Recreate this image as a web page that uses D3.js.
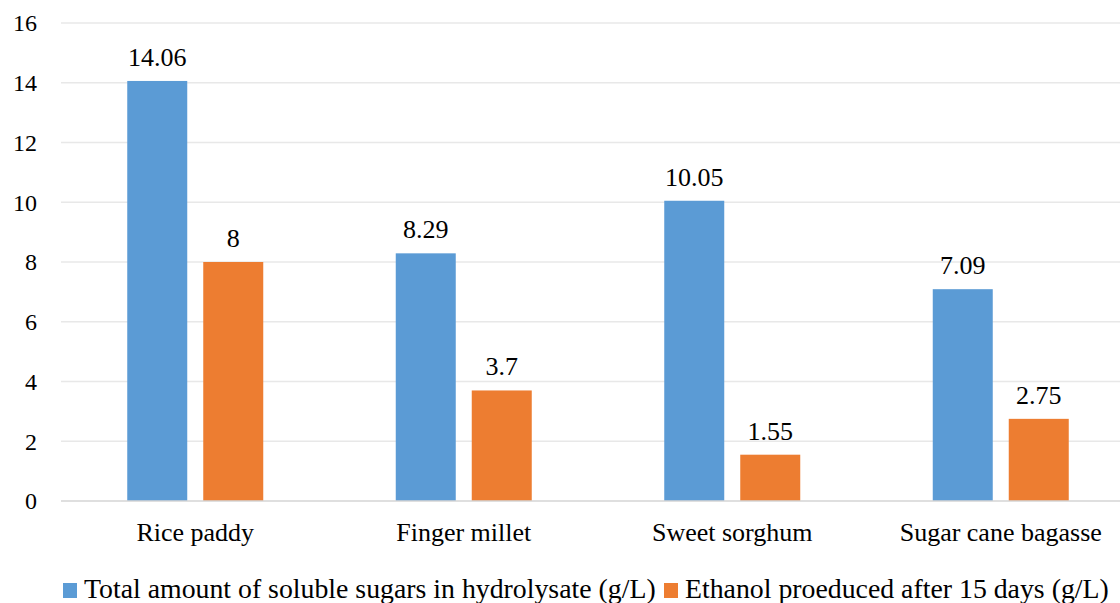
<!DOCTYPE html>
<html>
<head>
<meta charset="utf-8">
<script src="https://cdn.jsdelivr.net/npm/d3@7"></script>
<style>
  body { margin: 0; background: #fff; }
</style>
</head>
<body>
<div id="chart"></div>
<script>
// data
var categories = ["Rice paddy", "Finger millet", "Sweet sorghum", "Sugar cane bagasse"];
var seriesNames = ["Total amount of soluble sugars in hydrolysate (g/L)", "Ethanol proeduced after 15 days (g/L)"];
var sugars = [14.06, 8.29, 10.05, 7.09];
var ethanol = [8, 3.7, 1.55, 2.75];
var sugarLabels = ["14.06", "8.29", "10.05", "7.09"];
var ethanolLabels = ["8", "3.7", "1.55", "2.75"];
var yTicks = [0, 2, 4, 6, 8, 10, 12, 14, 16];
var colors = ["#5B9BD5", "#ED7D31"];

var W = 1120, H = 603;
var m = {left: 61, right: 1135, top: 23, bottom: 501};
var FONT = "'Liberation Serif', 'Times New Roman', serif";

var svg = d3.select("#chart").append("svg")
  .attr("width", W)
  .attr("height", H)
  .attr("font-family", FONT);

var x = d3.scaleBand()
  .domain(categories)
  .range([m.left, m.right]);

var y = d3.scaleLinear()
  .domain([0, 16])
  .range([m.bottom, m.top]);

// gridlines
svg.append("g")
  .selectAll("line")
  .data(yTicks.filter(function(d) { return d > 0; }))
  .enter().append("line")
  .attr("x1", m.left).attr("x2", W)
  .attr("y1", function(d) { return y(d); })
  .attr("y2", function(d) { return y(d); })
  .attr("stroke", "#e8e8e8")
  .attr("stroke-width", 1.3);

// y tick labels
svg.append("g")
  .selectAll("text")
  .data(yTicks)
  .enter().append("text")
  .attr("x", 37)
  .attr("y", function(d) { return y(d); })
  .attr("dy", "0.35em")
  .attr("text-anchor", "end")
  .attr("font-family", FONT)
  .attr("font-size", 24)
  .text(function(d) { return d; });

// bars
var barW = 60, gap = 16;
var rows = categories.map(function(c, i) {
  return [
    {cat: c, s: 0, v: sugars[i], lab: sugarLabels[i]},
    {cat: c, s: 1, v: ethanol[i], lab: ethanolLabels[i]}
  ];
});
var flat = [].concat.apply([], rows);

function barX(d) {
  var c = x(d.cat) + x.bandwidth() / 2;
  return d.s === 0 ? c - gap / 2 - barW : c + gap / 2;
}

svg.append("g")
  .selectAll("rect")
  .data(flat)
  .enter().append("rect")
  .attr("x", barX)
  .attr("y", function(d) { return y(d.v); })
  .attr("width", barW)
  .attr("height", function(d) { return y(0) - y(d.v); })
  .attr("fill", function(d) { return colors[d.s]; });

// value labels
svg.append("g")
  .selectAll("text")
  .data(flat)
  .enter().append("text")
  .attr("x", function(d) { return barX(d) + barW / 2; })
  .attr("y", function(d) { return y(d.v) - 15; })
  .attr("text-anchor", "middle")
  .attr("font-family", FONT)
  .attr("font-size", 26)
  .text(function(d) { return d.lab; });

// baseline
svg.append("line")
  .attr("x1", m.left).attr("x2", W)
  .attr("y1", y(0)).attr("y2", y(0))
  .attr("stroke", "#d4d4d4")
  .attr("stroke-width", 1.5);

// category labels
svg.append("g")
  .selectAll("text")
  .data(categories)
  .enter().append("text")
  .attr("x", function(d) { return x(d) + x.bandwidth() / 2; })
  .attr("y", 541)
  .attr("text-anchor", "middle")
  .attr("font-family", FONT)
  .attr("font-size", 26)
  .text(function(d) { return d; });

// legend
var legend = svg.append("g");
var lx = [63, 664];
seriesNames.forEach(function(name, i) {
  legend.append("rect")
    .attr("x", lx[i]).attr("y", 583)
    .attr("width", 14).attr("height", 15)
    .attr("fill", colors[i]);
  legend.append("text")
    .attr("x", lx[i] + 21).attr("y", 598)
    .attr("font-family", FONT)
    .attr("font-size", 27.8)
    .text(name);
});
</script>
</body>
</html>
